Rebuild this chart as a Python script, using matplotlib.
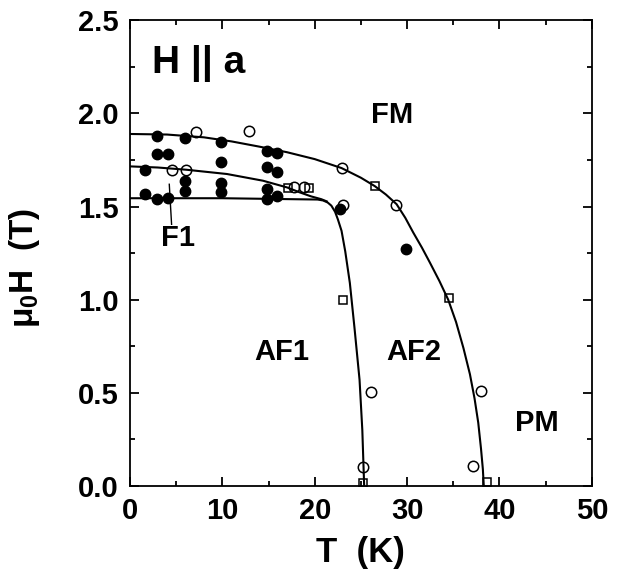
import matplotlib
matplotlib.use("Agg")
import matplotlib.pyplot as plt
from matplotlib.ticker import MultipleLocator, FormatStrFormatter

plt.rcParams['font.family'] = ['Liberation Sans', 'DejaVu Sans']
plt.rcParams['font.weight'] = 'bold'

# data (T in K, mu0H in T)
filled_T = [1.6, 1.6, 2.95, 2.95, 2.95, 4.15, 4.15, 5.95, 5.95, 5.95,
            9.9, 9.9, 9.9, 9.9, 14.8, 14.8, 14.8, 14.8, 15.9, 15.9, 15.9,
            22.7, 29.9]
filled_H = [1.696, 1.567, 1.881, 1.782, 1.540, 1.782, 1.545, 1.869, 1.639, 1.585,
            1.849, 1.741, 1.626, 1.576, 1.797, 1.711, 1.594, 1.540, 1.786, 1.687, 1.555,
            1.486, 1.271]

open_T = [4.5, 6.1, 7.14, 12.9, 17.7, 18.8, 22.9, 23.1, 28.8, 26.1, 25.2, 38.0, 37.1]
open_H = [1.698, 1.698, 1.899, 1.905, 1.603, 1.603, 1.707, 1.508, 1.509, 0.503, 0.10, 0.508, 0.108]

square_T = [17.1, 19.4, 26.5, 23.1, 34.5, 25.25, 38.7]
square_H = [1.600, 1.600, 1.608, 1.000, 1.007, 0.015, 0.020]

# phase boundaries (guide lines)
upper_T = [0, 4, 8, 11, 14, 17, 20, 22.9, 25, 26.5, 27.7, 28.86, 29.8, 30.66,
           31.6, 32.47, 33.5, 34.45, 35.3, 36.1, 36.8, 37.3, 37.7, 38.0, 38.2, 38.3]
upper_H = [1.890, 1.887, 1.872, 1.850, 1.822, 1.792, 1.755, 1.707, 1.655, 1.610,
           1.565, 1.513, 1.44, 1.361, 1.28, 1.199, 1.10, 1.0, 0.88, 0.74, 0.60,
           0.47, 0.34, 0.20, 0.09, 0.0]

middle_T = [0, 3, 6.1, 10.5, 14.4, 17.0, 18.4, 19.6, 20.7, 21.3]
middle_H = [1.716, 1.710, 1.698, 1.675, 1.639, 1.603, 1.576, 1.555, 1.540, 1.528]

lower_T = [0, 10, 17.3, 20.3, 20.9, 21.4, 21.8, 22.2, 22.5, 22.9, 23.3, 23.8,
           24.3, 24.85, 25.15, 25.35]
lower_H = [1.545, 1.545, 1.540, 1.538, 1.533, 1.522, 1.505, 1.472, 1.432, 1.37,
           1.26, 1.09, 0.85, 0.57, 0.30, 0.0]

fig = plt.figure(figsize=(6.23, 5.82), dpi=100)
ax = fig.add_axes([0.2087, 0.165, 0.7413, 0.800])

for cT, cH in [(upper_T, upper_H), (middle_T, middle_H), (lower_T, lower_H)]:
    ax.plot(cT, cH, color='black', lw=1.5, zorder=2)

ax.plot(filled_T, filled_H, 'o', color='black', ms=7.5, zorder=3)
ax.plot(open_T, open_H, 'o', mfc='none', mec='black', mew=1.1, ms=7.5, zorder=3)
ax.plot(square_T, square_H, 's', mfc='none', mec='black', mew=1.1, ms=6, zorder=3)

# F1 leader line
ax.plot([4.25, 4.5], [1.62, 1.405], color='black', lw=1.0)

ax.text(2.4, 2.27, 'H || a', fontsize=28, fontweight='bold', va='center', ha='left')
ax.text(28.4, 1.99, 'FM', fontsize=21, fontweight='bold', ha='center', va='center')
ax.text(5.2, 1.332, 'F1', fontsize=21, fontweight='bold', ha='center', va='center')
ax.text(16.4, 0.72, 'AF1', fontsize=21, fontweight='bold', ha='center', va='center')
ax.text(30.7, 0.72, 'AF2', fontsize=21, fontweight='bold', ha='center', va='center')
ax.text(44.1, 0.338, 'PM', fontsize=21, fontweight='bold', ha='center', va='center')

ax.set_xlim(0, 50)
ax.set_ylim(0, 2.5)
ax.xaxis.set_major_locator(MultipleLocator(10))
ax.xaxis.set_minor_locator(MultipleLocator(5))
ax.yaxis.set_major_locator(MultipleLocator(0.5))
ax.yaxis.set_minor_locator(MultipleLocator(0.25))
ax.yaxis.set_major_formatter(FormatStrFormatter('%.1f'))

ax.tick_params(which='both', direction='in', top=True, right=True, width=1.3)
ax.tick_params(which='major', length=6.5, labelsize=21, pad=8)
ax.tick_params(which='minor', length=3.5)
for lab in ax.get_xticklabels() + ax.get_yticklabels():
    lab.set_fontweight('bold')
for s in ax.spines.values():
    s.set_linewidth(1.3)

ax.set_xlabel('T  (K)', fontsize=25, fontweight='bold', labelpad=8)
ax.set_ylabel('μ$_\\mathregular{0}$H  (T)', fontsize=24, fontweight='bold')
ax.yaxis.set_label_coords(-0.19, 0.468)

fig.savefig('out.png', dpi=100)
